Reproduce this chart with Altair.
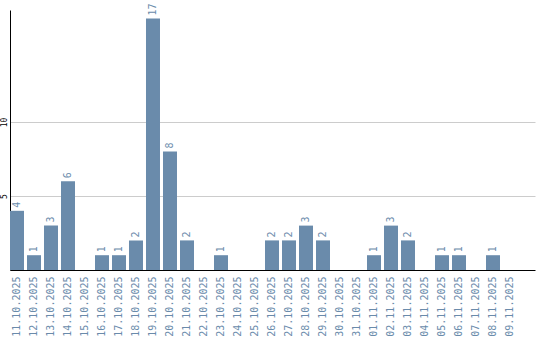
import altair as alt
import pandas as pd

dates = ["11.10.2025", "12.10.2025", "13.10.2025", "14.10.2025", "15.10.2025",
         "16.10.2025", "17.10.2025", "18.10.2025", "19.10.2025", "20.10.2025",
         "21.10.2025", "22.10.2025", "23.10.2025", "24.10.2025", "25.10.2025",
         "26.10.2025", "27.10.2025", "28.10.2025", "29.10.2025", "30.10.2025",
         "31.10.2025", "01.11.2025", "02.11.2025", "03.11.2025", "04.11.2025",
         "05.11.2025", "06.11.2025", "07.11.2025", "08.11.2025", "09.11.2025"]
counts = [4, 1, 3, 6, 0, 1, 1, 2, 17, 8, 2, 0, 1, 0, 0,
          2, 2, 3, 2, 0, 0, 1, 3, 2, 0, 1, 1, 0, 1, 0]
y_ticks = [5, 10]

df = pd.DataFrame({"date": dates, "count": counts})
df["label"] = [str(c) if c > 0 else "" for c in counts]

COLOR = "#6a8bab"
FONT = "DejaVu Sans Mono"

x = alt.X("date:N", sort=dates, title=None,
          scale=alt.Scale(paddingInner=0.1765, paddingOuter=0.53, align=0),
          axis=alt.Axis(labelAngle=270, labelAlign="right", labelBaseline="middle",
                        labelFont=FONT, labelFontSize=10, labelColor=COLOR,
                        ticks=False, tickSize=0, labelPadding=6,
                        domainColor="#000000", domainWidth=1, grid=False))
y = alt.Y("count:Q", title=None,
          scale=alt.Scale(domain=[0, 17.57], nice=False, zero=True),
          axis=alt.Axis(values=y_ticks, labelAngle=270, labelAlign="center",
                        labelBaseline="bottom", labelFont=FONT, labelFontSize=8,
                        labelColor="#000000", ticks=False, tickSize=0, labelPadding=2,
                        domainColor="#000000", domainWidth=1,
                        grid=True, gridColor="#cccccc", gridWidth=1))

bars = alt.Chart(df).mark_bar(color=COLOR).encode(x=x, y=y)
texts = alt.Chart(df).transform_filter("datum.count > 0").mark_text(
    angle=270, align="left", baseline="middle", font=FONT, fontSize=10,
    color=COLOR, yOffset=-3
).encode(x=alt.X("date:N", sort=dates), y=alt.Y("count:Q"), text="label:N")

chart = alt.layer(bars, texts).properties(
    width=525, height=260,
    background="#ffffff",
    autosize=alt.AutoSizeParams(type="none"),
    padding={"left": 10, "top": 10, "right": 5, "bottom": 70},
).configure_view(stroke=None)

chart.save("out.html", embed_options={"renderer": "svg", "actions": False})
